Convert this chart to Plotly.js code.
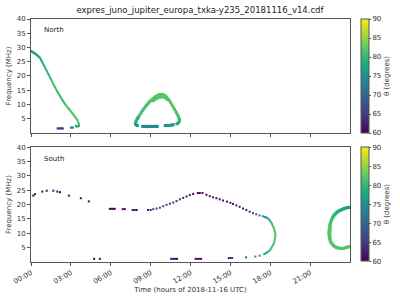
<!DOCTYPE html>
<html><head><meta charset="utf-8">
<script src="https://cdn.plot.ly/plotly-3.0.1.min.js"></script>
<style>body{margin:0;background:#fff}#c{width:400px;height:300px}</style>
</head><body><div id="c"></div>
<script>
// Tick labels
const tickHours = [0,3,6,9,12,15,18,21];
const tickLabels = ["00:00","03:00","06:00","09:00","12:00","15:00","18:00","21:00"];

// ---- North hemisphere: time (h), frequency (MHz), theta (deg) ----
// thin descending arc + short dashes
const northArcT = [0.00,0.05,0.10,0.15,0.20,0.25,0.30,0.35,0.40,0.45,0.50,0.55,0.60,0.65,0.70,0.75,0.80,0.85,0.90,0.95,1.00,1.05,1.10,1.15,1.20,1.25,1.30,1.35,1.40,1.45,1.50,1.55,1.60,1.65,1.70,1.75,1.80,1.85,1.90,1.95,2.00,2.05,2.10,2.15,2.20,2.25,2.30,2.35,2.40,2.45,2.50,2.55,2.60,2.65,2.70,2.75,2.80,2.85,2.90,2.95,3.00,3.05,3.10,3.15,3.20,3.25,3.30,3.35,3.40,3.45,3.50,3.55,3.60,3.62,3.58,3.50,3.42,3.38,
  2.00,2.08,2.16,2.24,2.32,2.40, 3.00,3.08,3.16];
const northArcF = [28.8,28.6,28.5,28.3,28.2,28.0,27.9,27.7,27.5,27.3,27.1,26.9,26.7,26.5,26.1,25.7,25.3,24.8,24.4,23.9,23.5,23.0,22.6,22.1,21.7,21.2,20.7,20.3,19.8,19.3,18.9,18.4,18.0,17.5,17.0,16.6,16.1,15.7,15.2,14.8,14.4,14.0,13.6,13.2,12.8,12.4,12.0,11.6,11.3,10.9,10.6,10.2,9.9,9.6,9.3,9.0,8.7,8.4,8.2,7.9,7.6,7.3,7.0,6.7,6.4,6.0,5.7,5.4,5.1,4.8,4.4,3.8,3.2,2.7,2.4,2.3,2.3,2.5,
  1.6,1.6,1.6,1.6,1.6,1.6, 1.9,1.9,1.9];
const northArcTheta = [75,75,75,76,76,76,76,77,77,77,77,78,78,78,78,78,79,79,79,79,79,79,80,80,80,80,80,80,80,80,80,81,81,81,81,81,81,81,81,81,81,81,81,81,81,81,81,81,81,81,81,81,82,82,82,82,82,82,82,82,82,82,82,82,82,82,82,82,82,82,81,81,80,79,78,77,76,76,
  65,65,65,65,65,65, 75,75,75];
// thick loop near 08:00-11:00
const northLoopT = [7.85,7.90,7.95,8.00,8.05,8.10,8.20,8.30,8.40,8.50,8.60,8.70,8.80,8.90,9.00,9.10,9.20,9.30,9.40,9.50,9.60,9.70,9.80,9.90,10.00,10.10,10.20,10.30,10.40,10.50,10.60,10.70,10.80,10.90,11.00,11.08,11.14,11.17,11.15,11.08,10.98,
  9.20,9.35,9.50,9.65,9.80,9.95,10.10,10.25,
  7.90,8.00, 8.40,8.50,8.60,8.70,8.80,8.90,9.00,9.10,9.20,9.30,9.40,9.50, 10.10,10.20,10.30,10.40,10.50,10.60,10.70];
const northLoopF = [3.3,4.0,4.6,5.0,5.3,5.7,6.5,7.2,7.9,8.6,9.2,9.8,10.3,10.9,11.3,11.7,12.1,12.5,12.8,13.1,13.3,13.5,13.5,13.5,13.3,13.0,12.6,12.0,11.4,10.7,9.9,9.1,8.3,7.4,6.6,5.8,5.1,4.6,4.0,3.6,3.2,
  11.3,11.8,12.2,12.5,12.7,12.6,12.3,11.8,
  2.9,2.6, 2.3,2.3,2.3,2.3,2.3,2.3,2.3,2.3,2.3,2.3,2.3,2.3, 2.6,2.6,2.6,2.6,2.7,2.8,2.9];
const northLoopTheta = [78,79,80,80,80,80,81,81,81,81,81,81,81,81,82,82,82,82,82,82,82,82,82,82,82,82,82,82,82,82,82,82,82,81,81,81,81,80,80,79,78,
  82,82,82,82,82,82,82,82,
  76,75, 74,74,74,74,74,74,74,74,74,74,74,74, 75,75,75,75,76,76,77];

// ---- South hemisphere ----
const southArcT = [0.17,0.30,0.85,1.18,1.68,1.98,2.18,2.85,3.75,4.35,
  5.93,6.05,6.17,6.30, 6.90,7.05, 7.65,7.80,7.95, 8.80,9.00,
  9.20,9.45,9.70,9.95,10.20,10.45,10.70,10.95,11.20,11.45,11.70,11.95,12.20,12.55,12.70,12.90,13.20,13.45,13.70,13.95,14.20,14.45,14.75,15.00,15.20,15.45,15.70,15.95,16.20,16.45,16.70,16.95,17.20,
  17.45,17.60,17.70,17.80,17.90,17.98,18.05,18.10,18.15,18.20,18.25,18.29,18.32,18.35,18.38,18.38,18.38,18.37,18.35,18.33,18.30,18.26,18.22,18.16,18.10,18.03,17.95,17.85,17.75,17.65,17.55,
  4.75,5.18, 10.55,10.70,10.85,10.98, 12.38,12.52,12.66,12.80, 14.88,15.00,15.13, 16.18,16.88,17.20];
const southArcF = [23.1,23.6,24.5,24.8,24.8,24.5,24.3,23.1,22.2,21.1,
  18.5,18.5,18.5,18.5, 18.4,18.4, 18.1,18.1,18.1, 18.1,18.1,
  18.4,18.6,18.9,19.4,19.9,20.3,20.7,21.2,21.8,22.3,22.8,23.3,23.7,24.0,24.0,24.0,23.4,22.9,22.5,22.2,21.8,21.4,21.0,20.6,20.2,19.7,19.2,18.6,18.1,17.5,17.0,16.6,16.2,
  15.9,15.7,15.5,15.2,14.8,14.4,13.9,13.5,13.0,12.5,12.0,11.5,11.0,10.5,10.0,9.5,9.0,8.5,8.0,7.5,7.0,6.5,6.0,5.5,5.0,4.5,4.0,3.6,3.3,3.0,2.8,
  1.1,1.1, 1.1,1.1,1.1,1.1, 1.1,1.1,1.1,1.1, 1.4,1.4,1.4, 1.6,1.9,2.2];
const southArcTheta = [61,61,61,61,61,61,61,61,61,61,
  60,60,60,60, 60,60, 61,61,61, 62,62,
  65,66,66,66,66,65,65,64,64,63,62,62,61,60,60,60,61,61,61,61,61,61,61,62,62,62,62,62,62,63,65,68,71,
  73,74,75,76,78,79,80,81,81,82,82,82,82,82,82,82,82,82,82,82,81,81,81,81,80,80,79,79,78,78,77,
  60,60, 60,60,60,60, 60,60,60,60, 64,64,64, 71,74,76];
// thick loop at the right edge
const southLoopT = [24.00,23.90,23.80,23.70,23.60,23.50,23.40,23.30,23.20,23.10,23.02,22.95,22.87,22.80,22.75,22.70,22.65,22.60,22.56,22.52,22.49,22.47,22.45,22.43,22.42,22.42,22.43,22.45,22.47,22.50,22.54,22.58,22.64,22.70,22.77,22.85,22.92,23.00,23.10,23.20,23.30,23.40,23.50,23.60,23.70,23.80,23.90,24.00,
  22.52,22.50,22.49,22.49,22.50,22.53];
const southLoopF = [19.0,19.0,18.95,18.8,18.65,18.5,18.3,18.1,17.85,17.6,17.3,17.0,16.6,16.3,15.9,15.5,15.0,14.5,14.0,13.4,12.9,12.3,11.7,11.1,10.5,9.9,9.3,8.7,8.2,7.7,7.2,6.8,6.4,6.0,5.7,5.4,5.2,5.0,4.9,4.8,4.75,4.7,4.75,4.9,5.05,5.2,5.3,5.4,
  12.0,11.0,10.0,9.0,8.0,7.2];
const southLoopTheta = [76,76,76,77,77,77,77,77,78,78,78,79,79,79,80,80,80,81,81,81,81,82,82,82,82,82,82,82,82,82,82,82,82,82,82,82,82,82,82,82,82,82,82,82,82,82,82,82,
  82,82,82,82,82,82];

const fontFam = "DejaVu Sans, sans-serif";
const mk = (x,y,c,xa,ya,ca,sz) => ({type:'scatter',mode:'markers',x:x,y:y,xaxis:xa,yaxis:ya,
  marker:{symbol:'square',size:sz,color:c,coloraxis:ca,line:{width:0}},hoverinfo:'skip',showlegend:false});

const axX = (showLabels, anchor) => ({range:[0,24],tickvals:tickHours,ticktext:tickLabels,showticklabels:showLabels,
  tickangle:-30,ticks:'outside',ticklen:3,tickcolor:'#555',showgrid:false,zeroline:false,
  showline:true,linecolor:'#555',linewidth:1,mirror:true,anchor:anchor,tickfont:{size:7,color:'#333'}});
const axY = (dom, anchor) => ({domain:dom,range:[0,40],tickvals:[5,10,15,20,25,30,35,40],ticks:'outside',ticklen:3,tickcolor:'#555',
  showgrid:false,zeroline:false,showline:true,linecolor:'#555',linewidth:1,mirror:true,anchor:anchor,
  tickfont:{size:7,color:'#333'},title:{text:'Frequency (MHz)',font:{size:7,color:'#333'},standoff:4}});
const cbar = (yTop) => ({colorscale:'Viridis',cmin:60,cmax:90,
  colorbar:{x:1.034,xanchor:'left',y:yTop,yanchor:'top',len:0.469,lenmode:'fraction',thickness:8,xpad:0,ypad:0,
    outlinewidth:1,outlinecolor:'#555',ticks:'outside',ticklen:2,tickcolor:'#555',tickvals:[60,65,70,75,80,85,90],
    tickfont:{size:7,color:'#333'},title:{text:'θ (degrees)',side:'right',font:{size:7,color:'#333'}}}});

const layout = {
  width:400,height:300,margin:{l:31,r:50,t:19,b:38,autoexpand:false},
  paper_bgcolor:'#fff',plot_bgcolor:'#fff',font:{family:fontFam},
  title:{text:'expres_juno_jupiter_europa_txka-y235_20181116_v14.cdf',font:{size:8.5,color:'#222'},x:0.5,xanchor:'center',y:0.975,yanchor:'top'},
  xaxis:axX(false,'y'), yaxis:axY([0.531,1],'x'),
  xaxis2:Object.assign(axX(true,'y2'),{title:{text:'Time (hours of 2018-11-16 UTC)',font:{size:7,color:'#333'},standoff:2}}),
  yaxis2:axY([0,0.473],'x2'),
  coloraxis:cbar(1), coloraxis2:cbar(0.473),
  annotations:[
    {text:'North',xref:'paper',yref:'paper',x:0.035,y:0.98,xanchor:'left',yanchor:'top',showarrow:false,font:{size:7,color:'#222'}},
    {text:'South',xref:'paper',yref:'paper',x:0.035,y:0.45,xanchor:'left',yanchor:'top',showarrow:false,font:{size:7,color:'#222'}}
  ]
};
Plotly.newPlot('c',[
  mk(northArcT,northArcF,northArcTheta,'x','y','coloraxis',2),
  mk(northLoopT,northLoopF,northLoopTheta,'x','y','coloraxis',3),
  mk(southArcT,southArcF,southArcTheta,'x2','y2','coloraxis2',2),
  mk(southLoopT,southLoopF,southLoopTheta,'x2','y2','coloraxis2',3)
],layout,{staticPlot:true});
</script></body></html>
